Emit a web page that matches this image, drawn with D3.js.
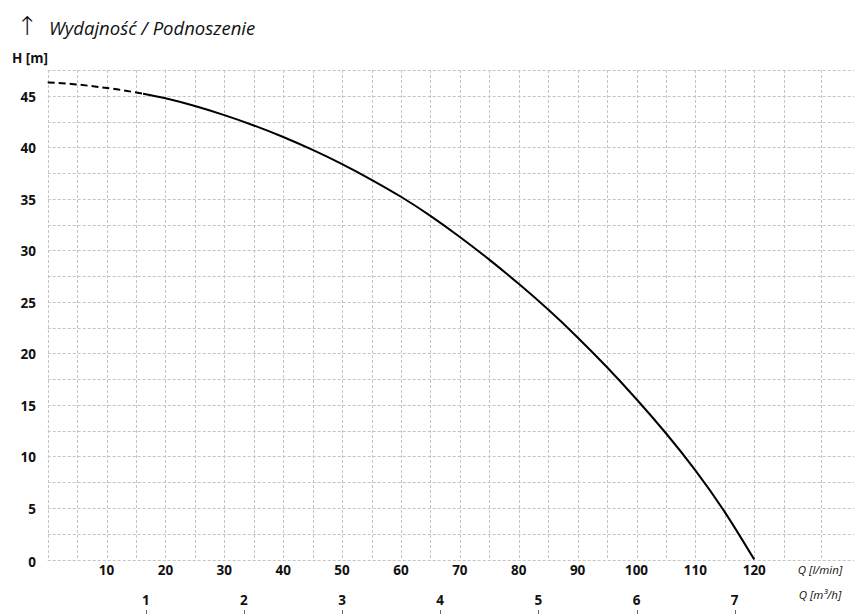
<!DOCTYPE html>
<html>
<head>
<meta charset="utf-8">
<script src="https://cdn.jsdelivr.net/npm/d3@7"></script>
<style>
  body { margin: 0; background: #fff; }
  text { font-family: "Open Sans", sans-serif; fill: #111; }
</style>
</head>
<body>
<div id="chart"></div>
<script>
// curve: flow Q [l/min] -> head H [m]
const dashedQ = [0, 4, 8, 12, 16.2];
const dashedH = [46.3, 46.15, 45.9, 45.6, 45.2];
const curveQ = [16.2, 20, 25, 30, 35, 40, 45, 50, 55, 60, 65, 70, 75, 80, 85, 90, 95, 100, 105, 110, 115, 120];
const curveH = [45.2, 44.75, 44.0, 43.12, 42.12, 41.0, 39.75, 38.37, 36.85, 35.2, 33.35, 31.3, 29.1, 26.75, 24.25, 21.55, 18.65, 15.55, 12.25, 8.65, 4.6, 0];

const hTicks = [0, 5, 10, 15, 20, 25, 30, 35, 40, 45];
const qTicks = [10, 20, 30, 40, 50, 60, 70, 80, 90, 100, 110, 120];
const m3hTicks = [1, 2, 3, 4, 5, 6, 7];

const width = 854, height = 614;
const qMax = 131.25, hMax = 47.5;

const svg = d3.select("#chart")
    .append("svg")
    .attr("width", width)
    .attr("height", height);

const x = d3.scaleLinear().domain([0, qMax]).range([47.7, 820.5]);
const y = d3.scaleLinear().domain([0, hMax]).range([559.5, 70]);
// second flow scale in m3/h, same pixels
const xm = d3.scaleLinear().domain([0, qMax * 60 / 1000]).range(x.range());

// grid
const grid = svg.append("g")
    .attr("stroke", "#c4c4c4")
    .attr("stroke-width", 1)
    .attr("stroke-dasharray", "3,2");

grid.selectAll("line.v")
  .data(d3.range(0, 126, 5).concat([qMax]))
  .join("line")
    .attr("class", "v")
    .attr("x1", d => Math.round(x(d)) + 0.5)
    .attr("x2", d => Math.round(x(d)) + 0.5)
    .attr("y1", y(hMax))
    .attr("y2", y(0));

grid.selectAll("line.h")
  .data(d3.range(0, hMax + 0.1, 2.5))
  .join("line")
    .attr("class", "h")
    .attr("x1", x(0))
    .attr("x2", width)
    .attr("y1", d => Math.round(y(d)) + 0.5)
    .attr("y2", d => Math.round(y(d)) + 0.5);

// Y axis labels
svg.append("g")
  .selectAll("text")
  .data(hTicks)
  .join("text")
    .attr("x", 36)
    .attr("y", d => y(d) + (d === 0 ? 3 : 1))
    .attr("dy", "0.36em")
    .attr("text-anchor", "end")
    .style("font-size", "13.5px")
    .style("font-weight", "bold")
    .text(d => d);

// X axis labels (l/min)
svg.append("g")
  .selectAll("text")
  .data(qTicks)
  .join("text")
    .attr("x", d => x(d))
    .attr("y", 570.5)
    .attr("dy", "0.36em")
    .attr("text-anchor", "middle")
    .style("font-size", "13.5px")
    .style("font-weight", "bold")
    .text(d => d);

// second X axis (m3/h)
const m3 = svg.append("g");
m3.selectAll("text")
  .data(m3hTicks)
  .join("text")
    .attr("x", d => xm(d))
    .attr("y", 600.5)
    .attr("dy", "0.36em")
    .attr("text-anchor", "middle")
    .style("font-size", "13.5px")
    .style("font-weight", "bold")
    .text(d => d);
m3.selectAll("line")
  .data(m3hTicks)
  .join("line")
    .attr("x1", d => Math.round(xm(d)) + 0.5)
    .attr("x2", d => Math.round(xm(d)) + 0.5)
    .attr("y1", 610)
    .attr("y2", 614)
    .attr("stroke", "#666");

// unit labels
svg.append("text")
    .attr("x", 820)
    .attr("y", 570)
    .attr("dy", "0.36em")
    .attr("text-anchor", "middle")
    .style("font-size", "11.5px")
    .style("font-style", "italic")
    .text("Q [l/min]");

svg.append("text")
    .attr("x", 820)
    .attr("y", 595)
    .attr("dy", "0.36em")
    .attr("text-anchor", "middle")
    .style("font-size", "11.5px")
    .style("font-style", "italic")
    .text("Q [m³/h]");

svg.append("text")
    .attr("x", 12)
    .attr("y", 63)
    .style("font-size", "13.5px")
    .style("font-weight", "bold")
    .text("H [m]");

// title
svg.append("text")
    .attr("x", 27.5)
    .attr("y", 35)
    .attr("text-anchor", "middle")
    .style("font-family", "DejaVu Sans")
    .style("font-size", "26px")
    .style("font-weight", "200")
    .text("↑");

svg.append("text")
    .attr("x", 49)
    .attr("y", 35)
    .style("font-size", "18.5px")
    .style("font-style", "italic")
    .text("Wydajność / Podnoszenie");

// curve
const line = d3.line()
    .x(d => x(d[0]))
    .y(d => y(d[1]))
    .curve(d3.curveNatural);

svg.append("path")
    .datum(d3.zip(dashedQ, dashedH))
    .attr("fill", "none")
    .attr("stroke", "#000")
    .attr("stroke-width", 2)
    .attr("stroke-dasharray", "7,4")
    .attr("d", line);

svg.append("path")
    .datum(d3.zip(curveQ, curveH))
    .attr("fill", "none")
    .attr("stroke", "#000")
    .attr("stroke-width", 2)
    .attr("d", line);
</script>
</body>
</html>
